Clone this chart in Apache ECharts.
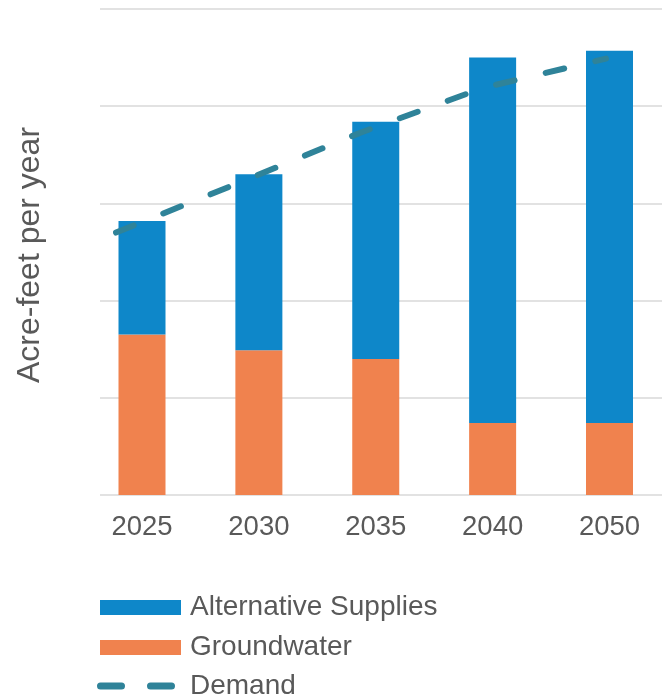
<!DOCTYPE html>
<html>
<head>
<meta charset="utf-8">
<script src="https://cdn.jsdelivr.net/npm/echarts@6/dist/echarts.min.js"></script>
<style>
html,body{margin:0;padding:0;background:#fff;}
#chart{width:662px;height:697px;}
</style>
</head>
<body>
<div id="chart"></div>
<script>
const categories = ['2025', '2030', '2035', '2040', '2050'];
const groundwater = [165, 149, 140, 74, 74];
const alternativeSupplies = [117, 181, 244, 376, 383];
const demand = [270, 321, 373, 419, 449];
const yTitle = 'Acre-feet per year';

const FONT = '"Liberation Sans", Arial, sans-serif';
const TXT = '#595959';
const YMAX = 500;
const LEG_TEXT = {fontFamily: FONT, fontSize: 28, color: TXT, lineHeight: 28};
const DASH_ICON = 'path://M3.5,0 H24.5 A3.5,3.5 0 0 1 24.5,7 H3.5 A3.5,3.5 0 0 1 3.5,0 Z M53.5,0 H74.5 A3.5,3.5 0 0 1 74.5,7 H53.5 A3.5,3.5 0 0 1 53.5,0 Z';

const chart = echarts.init(document.getElementById('chart'), null, {renderer: 'canvas'});
chart.setOption({
  animation: false,
  backgroundColor: '#ffffff',
  textStyle: {fontFamily: FONT},
  legend: [
    {
      left: 100, top: 593.5, padding: 0, itemWidth: 81, itemHeight: 15, icon: 'rect',
      data: ['Alternative Supplies'],
      textStyle: Object.assign({padding: [0, 0, 0, 4]}, LEG_TEXT)
    },
    {
      left: 100, top: 633.5, padding: 0, itemWidth: 81, itemHeight: 15, icon: 'rect',
      data: ['Groundwater'],
      textStyle: Object.assign({padding: [0, 0, 0, 4]}, LEG_TEXT)
    },
    {
      left: 97, top: 672, padding: 0, itemWidth: 78, itemHeight: 7, icon: DASH_ICON,
      data: ['Demand'],
      textStyle: Object.assign({padding: [0, 0, 0, 10]}, LEG_TEXT)
    }
  ],
  grid: [
    {left: 142, right: 52.5, top: 9, bottom: 202},
    {left: 100, right: 0, top: 9, bottom: 202},
    {left: 116, right: 56, top: 9, bottom: 202}
  ],
  xAxis: [
    {
      type: 'category', gridIndex: 0, data: categories, boundaryGap: false,
      axisLine: {show: false}, axisTick: {show: false},
      axisLabel: {fontFamily: FONT, fontSize: 27.5, color: TXT, margin: 18}
    },
    {type: 'category', gridIndex: 1, data: categories, show: false},
    {type: 'category', gridIndex: 2, data: categories, boundaryGap: false, show: false}
  ],
  yAxis: [
    {type: 'value', gridIndex: 0, min: 0, max: YMAX, interval: 100, show: false},
    {
      type: 'value', gridIndex: 1, min: 0, max: YMAX, interval: 100,
      axisLine: {show: false}, axisTick: {show: false}, axisLabel: {show: false},
      splitLine: {show: true, lineStyle: {color: '#d9d9d9', width: 1.5}},
      name: yTitle, nameLocation: 'middle', nameGap: 54,
      nameTextStyle: {fontFamily: FONT, fontSize: 32, color: TXT, padding: [0, 6, 0, 0]}
    },
    {type: 'value', gridIndex: 2, min: 0, max: YMAX, interval: 100, show: false}
  ],
  series: [
    {
      name: 'Groundwater', type: 'bar', stack: 'supply',
      xAxisIndex: 0, yAxisIndex: 0, barWidth: 47,
      itemStyle: {color: '#f0824e'},
      data: groundwater
    },
    {
      name: 'Alternative Supplies', type: 'bar', stack: 'supply',
      xAxisIndex: 0, yAxisIndex: 0, barWidth: 47,
      itemStyle: {color: '#0e87c9'},
      data: alternativeSupplies
    },
    {
      name: 'Demand', type: 'line', xAxisIndex: 2, yAxisIndex: 2,
      symbol: 'none', z: 5,
      lineStyle: {color: '#2f8399', width: 6, type: [19, 32], cap: 'round'},
      itemStyle: {color: '#2f8399'},
      data: demand
    }
  ]
});
</script>
</body>
</html>
